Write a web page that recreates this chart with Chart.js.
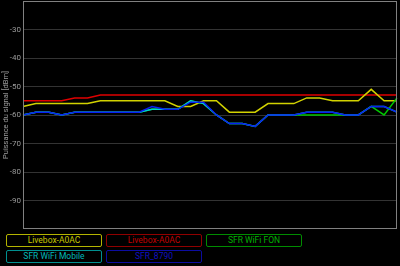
<!DOCTYPE html>
<html>
<head>
<meta charset="utf-8">
<script src="https://cdn.jsdelivr.net/npm/chart.js@4.4.1/dist/chart.umd.min.js"></script>
<style>
    html, body { margin: 0; padding: 0; background: #000; }
    #wrap { position: relative; width: 400px; height: 266px; overflow: hidden; }
    #box { position: absolute; left: 0; top: 0; width: 400px; height: 232px; }
    .leg {
        position: absolute; box-sizing: border-box; width: 96px; height: 13px;
        border: 1px solid; border-radius: 2px;
        font: 8.5px Roboto, sans-serif; line-height: 11px; text-align: center;
    }
</style>
</head>
<body>
<div id="wrap">
    <div id="box"><canvas id="chart" width="400" height="232"></canvas></div>
    <div id="legend"></div>
</div>
<script>
(function () {
    'use strict';

    // ── Data ─────────────────────────────────────────────────────────────────

    var samples   = ['1','2','3','4','5','6','7','8','9','10','11','12','13','14','15',
                     '16','17','18','19','20','21','22','23','24','25','26','27','28','29','30'];
    var yTicks    = [-100, -90, -80, -70, -60, -50, -40, -30, -20];

    var names     = ['Livebox-A0AC', 'Livebox-A0AC', 'SFR WiFi FON', 'SFR WiFi Mobile', 'SFR_8790'];

    var liveboxY  = [-57,-56,-56,-56,-56,-56,-55,-55,-55,-55,-55,-55,-57,-57,-55,
                     -55,-59,-59,-59,-56,-56,-56,-54,-54,-55,-55,-55,-51,-55,-55];
    var liveboxR  = [-55,-55,-55,-55,-54,-54,-53,-53,-53,-53,-53,-53,-53,-53,-53,
                     -53,-53,-53,-53,-53,-53,-53,-53,-53,-53,-53,-53,-53,-53,-53];
    var sfrFon    = [-60,-59,-59,-60,-59,-59,-59,-59,-59,-59,-58,-58,-58,-55,-56,
                     -60,-63,-63,-64,-60,-60,-60,-60,-60,-60,-60,-60,-57,-60,-54];
    var sfrMobile = [-60,-59,-59,-60,-59,-59,-59,-59,-59,-59,-58,-58,-58,-55,-56,
                     -60,-63,-63,-64,-60,-60,-60,-59,-59,-59,-60,-60,-57,-57,-59];
    var sfr8790   = [-60,-59,-59,-60,-59,-59,-59,-59,-59,-59,-57,-58,-58,-55.5,-55.5,
                     -60,-63,-63,-64,-60,-60,-60,-59,-59,-59,-60,-60,-57,-57,-59];

    var lineColors = ['#d2d200', '#e00000', '#00c800', '#00d0d0', '#0a1ef0'];
    var textColors = ['#c8c800', '#c00000', '#00b000', '#00b8b8', '#1010c0'];
    var edgeColors = ['#b4b400', '#900000', '#008c00', '#009090', '#0c0ca0'];

    var series = [liveboxY, liveboxR, sfrFon, sfrMobile, sfr8790];
    var drawOrder = [4, 5, 3, 2, 1];   // lower = on top

    // ── Chart ────────────────────────────────────────────────────────────────

    var frame = {
        id: 'frame',
        afterDatasetsDraw: function (chart) {
            var a = chart.chartArea, ctx = chart.ctx;
            ctx.save();
            ctx.strokeStyle = '#808080';
            ctx.lineWidth = 1;
            ctx.strokeRect(Math.round(a.left) + 0.5, Math.round(a.top) + 0.5,
                Math.round(a.right - a.left) - 1, Math.round(a.bottom - a.top) - 1);
            ctx.restore();
        }
    };

    new Chart(document.getElementById('chart').getContext('2d'), {
        type: 'line',
        data: {
            labels: samples,
            datasets: series.map(function (vals, i) {
                return {
                    label: names[i],
                    data: vals,
                    borderColor: lineColors[i],
                    backgroundColor: lineColors[i],
                    borderWidth: 1.5,
                    pointRadius: 0,
                    tension: 0,
                    order: drawOrder[i]
                };
            })
        },
        options: {
            responsive: false,
            animation: false,
            devicePixelRatio: 1,
            layout: { padding: { left: 0, right: 3, top: 1, bottom: 3 } },
            plugins: { legend: { display: false }, tooltip: { enabled: false } },
            scales: {
                x: { display: false, offset: false },
                y: {
                    min: yTicks[0], max: yTicks[yTicks.length - 1],
                    afterBuildTicks: function (scale) {
                        scale.ticks = yTicks.map(function (v) { return { value: v }; });
                    },
                    afterFit: function (scale) {
                        scale.width = 23;
                        scale.paddingTop = 0;
                        scale.paddingBottom = 0;
                    },
                    border: { display: false },
                    grid: {
                        drawTicks: false,
                        color: function (c) {
                            var v = c.tick && c.tick.value;
                            return (v === yTicks[0] || v === yTicks[yTicks.length - 1]) ? 'rgba(0,0,0,0)' : '#333333';
                        }
                    },
                    ticks: {
                        padding: 2,
                        color: '#9a9a9a',
                        font: { family: 'Roboto', size: 8 },
                        callback: function (v) {
                            return (v === yTicks[0] || v === yTicks[yTicks.length - 1]) ? '' : String(v);
                        }
                    },
                    title: {
                        display: true,
                        text: 'Puissance du signal [dBm]',
                        color: '#9a9a9a',
                        font: { family: 'Roboto', size: 7.5 },
                        padding: { top: 2, bottom: 0 }
                    }
                }
            }
        },
        plugins: [frame]
    });

    // ── Legend ───────────────────────────────────────────────────────────────

    var legend = document.getElementById('legend');
    names.forEach(function (name, i) {
        var el = document.createElement('div');
        el.className = 'leg';
        el.textContent = name;
        el.style.left = (6 + (i % 3) * 100) + 'px';
        el.style.top  = (i < 3 ? 234 : 250) + 'px';
        el.style.color = textColors[i];
        el.style.borderColor = edgeColors[i];
        legend.appendChild(el);
    });
}());
</script>
</body>
</html>
